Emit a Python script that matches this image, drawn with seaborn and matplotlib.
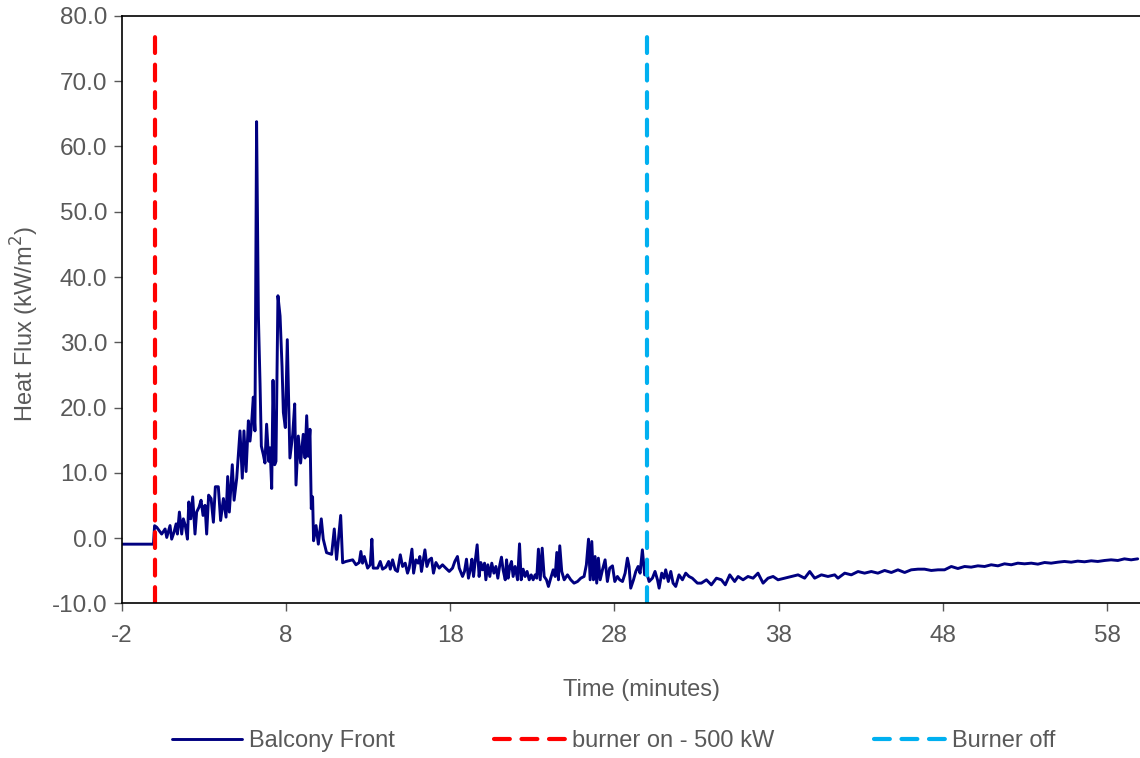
import numpy as np
import pandas as pd
import matplotlib
matplotlib.use("Agg")
import matplotlib.pyplot as plt
import seaborn as sns

# Balcony front heat flux (time in minutes, kW/m2)
time_min = [
    -2.00, -0.07, 0.00, 0.13, 0.43, 0.64, 0.74, 0.94, 1.04, 1.18, 1.31, 1.39, 1.51, 1.65, 1.75, 1.87,
    2.00, 2.08, 2.20, 2.32, 2.46, 2.56, 2.71, 2.83, 2.95, 3.07, 3.17, 3.29, 3.44, 3.58, 3.70, 3.88,
    4.02, 4.19, 4.35, 4.45, 4.55, 4.73, 4.84, 5.00, 5.20, 5.34, 5.44, 5.57, 5.71, 5.81, 5.91, 6.01,
    6.11, 6.21, 6.32, 6.42, 6.50, 6.62, 6.72, 6.82, 6.95, 7.03, 7.13, 7.21, 7.31, 7.39, 7.51, 7.64,
    7.76, 7.84, 7.96, 8.08, 8.24, 8.41, 8.53, 8.61, 8.75, 8.89, 9.05, 9.16, 9.26, 9.36, 9.46, 9.54,
    9.62, 9.68, 9.83, 9.97, 10.15, 10.27, 10.47, 10.78, 10.94, 11.08, 11.33, 11.45,
    11.65, 12.06, 12.26, 12.46, 12.56, 12.66, 12.77, 12.97, 13.13, 13.23, 13.31, 13.58, 13.74, 13.88,
    14.08, 14.25, 14.35, 14.49, 14.65, 14.79, 14.96, 15.10, 15.26, 15.40, 15.50, 15.67, 15.77, 15.91,
    16.05, 16.15, 16.25, 16.36, 16.46, 16.58, 16.72, 16.86, 16.98, 17.13, 17.33, 17.53, 17.73, 17.94,
    18.14, 18.28, 18.44, 18.55, 18.75, 18.87, 18.99, 19.11, 19.22, 19.32, 19.42, 19.52, 19.64, 19.76,
    19.86, 19.97, 20.09, 20.17, 20.29, 20.41, 20.53, 20.66, 20.78, 20.90, 21.02, 21.12, 21.22, 21.35,
    21.43, 21.53, 21.63, 21.73, 21.83, 21.95, 22.10, 22.22, 22.32, 22.44, 22.56, 22.68, 22.81, 22.93,
    23.05, 23.17, 23.27, 23.37, 23.48, 23.60, 23.72, 23.86, 23.98, 24.12, 24.27, 24.39, 24.49, 24.59,
    24.67, 24.79, 24.94, 25.14, 25.34, 25.54, 25.75, 25.95, 26.15, 26.29, 26.42, 26.52, 26.62, 26.72,
    26.82, 26.92, 27.02, 27.13, 27.27, 27.43, 27.57, 27.71, 27.88, 28.02, 28.18, 28.32, 28.49, 28.65,
    28.79, 28.89, 28.99, 29.16, 29.30, 29.44, 29.56, 29.70, 29.84, 29.97, 30.11, 30.31, 30.47, 30.62,
    30.72, 30.88, 31.02, 31.12, 31.28, 31.43, 31.57, 31.73, 31.93, 32.14, 32.34, 32.54, 32.74, 33.05,
    33.29, 33.60, 33.90, 34.21, 34.51, 34.75, 35.02, 35.32, 35.53, 35.83, 36.13, 36.44, 36.74, 37.05,
    37.35, 37.66, 37.96, 38.36, 38.77, 39.18, 39.58, 39.89, 40.19, 40.60, 41.00, 41.41, 41.61, 42.02,
    42.42, 42.83, 43.23, 43.64, 44.04, 44.45, 44.86, 45.26, 45.67, 46.07, 46.48, 46.88, 47.29, 47.70,
    48.10, 48.51, 48.91, 49.32, 49.72, 50.13, 50.54, 50.94, 51.35, 51.75, 52.16, 52.56, 52.97, 53.38,
    53.78, 54.19, 54.59, 55.00, 55.40, 55.81, 56.21, 56.62, 57.03, 57.43, 57.84, 58.24, 58.65, 59.05,
    59.46, 59.86,
]
heat_flux = [
    -0.93, -0.93, 1.90, 1.66, 0.62, 1.40, 0.10, 1.92, -0.16, 0.88, 2.18, 0.62, 3.99, 0.62, 2.95, 1.92,
    -0.16, 5.54, 2.95, 6.32, 0.62, 3.99, 4.76, 5.80, 3.47, 5.02, 0.62, 6.58, 6.06, 2.43, 7.87, 7.87,
    2.69, 6.06, 3.21, 9.43, 3.99, 11.24, 5.80, 9.17, 16.42, 9.17, 16.42, 10.20, 17.97, 14.86, 17.71, 21.60,
    16.42, 63.80, 34.02, 23.67, 14.09, 12.79, 11.50, 17.45, 11.76, 13.83, 7.61, 24.18, 11.24, 11.76, 37.13, 34.02,
    26.26, 19.26, 16.93, 30.40, 12.27, 15.90, 20.56, 8.13, 15.64, 11.50, 15.90, 12.27, 18.75, 12.53, 16.68, 4.51,
    6.32, -0.41, 1.92, -0.93, 2.95, -0.16, -2.23, -2.49, 1.40, -3.26, 3.47, -3.78,
    -3.58, -3.33, -4.09, -3.74, -2.05, -3.84, -2.82, -4.60, -4.09, -0.16, -4.60, -4.60, -3.58, -4.76,
    -4.45, -3.58, -4.76, -3.33, -4.86, -5.11, -2.56, -4.35, -3.84, -5.37, -4.60, -1.69, -5.37, -3.33,
    -3.84, -2.82, -5.11, -3.33, -1.80, -4.35, -3.33, -3.07, -5.37, -3.74, -4.60, -4.09, -4.60, -5.11,
    -4.60, -3.58, -2.82, -4.60, -5.88, -5.11, -3.23, -6.14, -4.86, -3.23, -5.88, -3.58, -1.03, -5.88,
    -3.74, -4.86, -3.84, -6.39, -4.09, -5.88, -3.84, -5.37, -4.35, -6.14, -4.09, -2.92, -4.86, -6.39,
    -3.33, -6.14, -4.35, -3.58, -5.88, -4.35, -6.39, -0.88, -6.39, -4.76, -5.88, -5.11, -6.39, -5.63,
    -6.39, -5.63, -6.14, -1.69, -6.39, -1.54, -5.88, -6.39, -7.41, -6.14, -4.86, -5.88, -2.20, -6.39,
    -1.18, -5.11, -6.39, -5.63, -6.39, -6.90, -6.65, -6.14, -5.88, -4.09, -0.16, -6.39, -0.52, -6.39,
    -2.82, -6.90, -3.07, -6.39, -4.86, -3.33, -6.65, -4.60, -4.25, -6.65, -5.88, -6.39, -6.65, -5.37,
    -3.07, -4.35, -7.67, -6.39, -5.11, -4.35, -5.37, -1.80, -5.63, -5.37, -6.65, -6.14, -5.11, -6.39,
    -7.67, -5.37, -6.14, -4.86, -6.65, -5.11, -6.90, -7.41, -5.63, -6.39, -5.37, -5.88, -6.14, -6.90,
    -6.90, -6.39, -7.16, -6.14, -6.39, -7.16, -5.63, -6.65, -5.88, -6.39, -5.88, -6.14, -5.37, -6.90,
    -6.14, -5.88, -6.39, -6.14, -5.88, -5.63, -6.14, -5.12, -6.14, -5.63, -5.88, -5.63, -6.14, -5.37,
    -5.63, -5.12, -5.37, -5.12, -5.37, -4.96, -5.27, -4.86, -5.27, -4.86, -4.76, -4.76, -4.96, -4.86,
    -4.86, -4.35, -4.66, -4.35, -4.45, -4.25, -4.35, -4.09, -4.25, -3.94, -4.09, -3.84, -3.94, -3.84,
    -3.99, -3.74, -3.84, -3.69, -3.58, -3.69, -3.53, -3.63, -3.48, -3.58, -3.43, -3.33, -3.43, -3.18,
    -3.33, -3.18,
]

burner_on_time = 0.0
burner_off_time = 30.0
marker_y = [-10.0, 78.5]

x_ticks = [-2, 8, 18, 28, 38, 48, 58]
y_ticks = [-10, 0, 10, 20, 30, 40, 50, 60, 70, 80]

df = pd.DataFrame({"time": time_min, "flux": heat_flux})

sns.set_style("white")
plt.rcParams["font.family"] = ["Liberation Sans", "DejaVu Sans"]
plt.rcParams["axes.unicode_minus"] = False

grey = "#595959"
fig = plt.figure(figsize=(11.4, 7.58), dpi=100)
ax = fig.add_axes([0.1068, 0.204, 0.8932, 0.775])

sns.lineplot(data=df, x="time", y="flux", ax=ax, color="#000080", linewidth=2.1,
             label="Balcony Front", estimator=None, sort=False)
ax.plot([burner_on_time, burner_on_time], marker_y, color="#FF0000", linewidth=3.0,
        linestyle=(0, (3.8, 2.8)), dash_capstyle="round", label="burner on - 500 kW")
ax.plot([burner_off_time, burner_off_time], marker_y, color="#00B0F0", linewidth=3.0,
        linestyle=(0, (3.8, 2.8)), dash_capstyle="round", label="Burner off")

ax.set_xlim(-2, 60)
ax.set_ylim(-10, 80)
ax.set_xticks(x_ticks)
ax.set_yticks(y_ticks)
ax.set_yticklabels([f"{v:.1f}" for v in y_ticks])

for side in ["left", "bottom", "top"]:
    ax.spines[side].set_color("#000000")
    ax.spines[side].set_linewidth(1.2)
ax.spines["right"].set_visible(False)

ax.tick_params(axis="both", direction="out", length=5.5, width=1.0, color=grey,
               labelcolor=grey, labelsize=17.5, bottom=True, left=True, top=False, right=False)
ax.tick_params(axis="x", pad=10)
ax.tick_params(axis="y", pad=5)

ax.set_xlabel("")
ax.set_ylabel("Heat Flux (kW/m$^2$)", fontsize=17, color=grey)
ax.yaxis.set_label_coords(-0.079, 0.475)
fig.text(0.563, 0.09, "Time (minutes)", ha="center", va="center", fontsize=17, color=grey)

ax.legend(loc="center", bbox_to_anchor=((0.538 - 0.1068) / 0.8932, (0.0224 - 0.204) / 0.775),
          ncol=3, frameon=False, fontsize=17, handlelength=3.0, handletextpad=0.3,
          columnspacing=4.2, labelcolor=grey)

fig.savefig("out.png", dpi=100)
